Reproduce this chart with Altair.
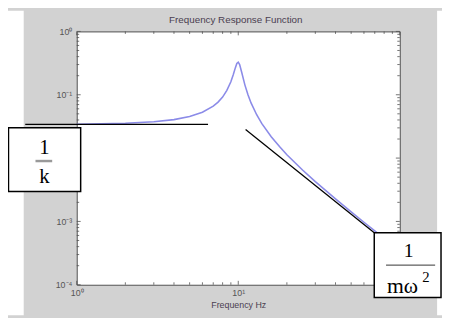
import altair as alt
import pandas as pd

# ---- data ----
freq = [1, 2, 3, 4, 5, 6, 7, 7.5, 8, 8.5, 9, 9.3, 9.6, 9.8, 10, 10.2, 10.5, 11, 11.5,
        12, 13, 14, 16, 18, 20, 25, 30, 40, 50, 60, 70, 80, 90, 100]
mag = [0.0343, 0.0354, 0.0374, 0.0405, 0.0453, 0.0529, 0.066, 0.0765, 0.092, 0.117,
       0.160, 0.205, 0.268, 0.311, 0.327, 0.300, 0.227, 0.142, 0.0988, 0.0743, 0.0484,
       0.035, 0.0217, 0.0152, 0.0113, 0.00648, 0.00425, 0.00227, 0.00142, 0.00097,
       0.00071, 0.00054, 0.000425, 0.000343]

stiff_f = [0.48, 6.5]
stiff_H = [0.034, 0.034]
mass_f = [11.1, 69.5]
mass_H = [0.0282, 0.000663]

x_decades = [1, 10, 100]
y_decades = [1, 0.1, 0.01, 0.001, 0.0001]
x_labels = ["10⁰", "10¹", "10²"]
y_labels = ["10⁰", "10⁻¹", "10⁻²", "10⁻³", "10⁻⁴"]
x_minor = [m * 10 ** e for e in (0, 1) for m in range(2, 10)]
y_minor = [m * 10.0 ** e for e in (-4, -3, -2, -1) for m in range(2, 10)]

title_text = "Frequency Response Function"
x_title = "Frequency Hz"

# ---- styling ----
W, H = 329, 258
FRAME = "#505050"
GRAY = "#d2d2d2"
CURVE = "#8b8be8"
SANS = "Liberation Sans"
SERIF = "Liberation Serif"

xs = alt.Scale(type="log", domain=[1, 100])
ys = alt.Scale(type="log", domain=[0.0001, 1])
one = pd.DataFrame({"a": [0]})

curve = alt.Chart(pd.DataFrame({"f": freq, "H": mag})).mark_line(
    color=CURVE, strokeWidth=1.6
).encode(
    x=alt.X("f:Q", scale=xs, axis=alt.Axis(
        values=x_decades, labelExpr=f"{x_labels}[round(log(datum.value)/LN10)]",
        ticks=False, domain=False, grid=False, labelFlush=False, labelOverlap=False,
        labelFont=SANS, labelFontSize=9, labelColor="#555555", labelPadding=4,
        title=x_title, titleFont=SANS, titleFontSize=9, titleFontWeight="normal",
        titleColor="#4a4050", titlePadding=3, zindex=0)),
    y=alt.Y("H:Q", scale=ys, axis=alt.Axis(
        values=y_decades, labelExpr=f"{y_labels}[round(-log(datum.value)/LN10)]",
        ticks=False, domain=False, grid=False, labelFlush=False, labelOverlap=False,
        labelFont=SANS, labelFontSize=9, labelColor="#555555", labelPadding=5,
        title=None, zindex=0)),
)


def xticks(vals, y0, y1):
    return alt.Chart(pd.DataFrame({"f": vals})).mark_rule(color=FRAME, strokeWidth=0.8).encode(
        x=alt.X("f:Q", scale=xs, axis=None), y=alt.value(y0), y2=alt.value(y1))


def yticks(vals, x0, x1):
    return alt.Chart(pd.DataFrame({"H": vals})).mark_rule(color=FRAME, strokeWidth=0.8).encode(
        y=alt.Y("H:Q", scale=ys, axis=None), x=alt.value(x0), x2=alt.value(x1))


ticks = [
    xticks(x_decades, H, H - 4), xticks(x_minor, H, H - 2.5),
    xticks(x_decades, 0, 4), xticks(x_minor, 0, 2.5),
    yticks(y_decades, 0, 4), yticks(y_minor, 0, 2.5),
    yticks(y_decades, W, W - 4), yticks(y_minor, W, W - 2.5),
]

stiff = alt.Chart(pd.DataFrame({"f": stiff_f, "H": stiff_H})).mark_line(
    color="black", strokeWidth=1.3).encode(
    x=alt.X("f:Q", scale=xs, axis=None), y=alt.Y("H:Q", scale=ys, axis=None))
mass = alt.Chart(pd.DataFrame({"f": mass_f, "H": mass_H})).mark_line(
    color="black", strokeWidth=1.3).encode(
    x=alt.X("f:Q", scale=xs, axis=None), y=alt.Y("H:Q", scale=ys, axis=None))


def rect(x0, x1, y0, y1, fill="white", stroke=None, sw=0):
    kw = dict(fill=fill)
    if stroke:
        kw.update(stroke=stroke, strokeWidth=sw)
    return alt.Chart(one).mark_rect(**kw).encode(
        x=alt.value(x0), x2=alt.value(x1), y=alt.value(y0), y2=alt.value(y1))


def txt(s, x, y, size, font=SERIF, color="black", align="center"):
    return alt.Chart(pd.DataFrame({"t": [s]})).mark_text(
        font=font, fontSize=size, color=color, baseline="middle", align=align
    ).encode(text="t:N", x=alt.value(x), y=alt.value(y))


def bar(x0, x1, y, color, sw):
    return alt.Chart(one).mark_rule(color=color, strokeWidth=sw).encode(
        x=alt.value(x0), x2=alt.value(x1), y=alt.value(y))


strips = [rect(-70, -54, -21, 289), rect(367, 372, -21, 289)]
title = txt(title_text, 162, -12, 10, font=SANS, color="#4a4050")

box_k = [
    rect(-69.5, 4, 98, 163, stroke="black", sw=1.5),
    txt("1", -33, 119, 21),
    bar(-42, -25, 132, "#999999", 2.5),
    txt("k", -33, 148, 21),
]
box_m = [
    rect(303, 371, 205, 271, stroke="black", sw=1.5),
    txt("1", 338, 224, 20),
    bar(315, 365, 238, "#333333", 1),
    txt("mω", 316, 259, 22, align="left"),
    txt("2", 352, 250, 15, align="left"),
]

chart = alt.layer(
    curve, *ticks, stiff, mass, *strips, title, *box_k, *box_m
).resolve_axis(x="independent", y="independent").properties(
    width=W, height=H,
    autosize=alt.AutoSizeParams(type="none"),
    padding={"left": 70, "top": 21, "right": 43, "bottom": 31},
).configure(background=GRAY).configure_view(fill="white", stroke=FRAME, strokeWidth=1)

chart.save("out.html", embed_options={"renderer": "svg", "actions": False})
